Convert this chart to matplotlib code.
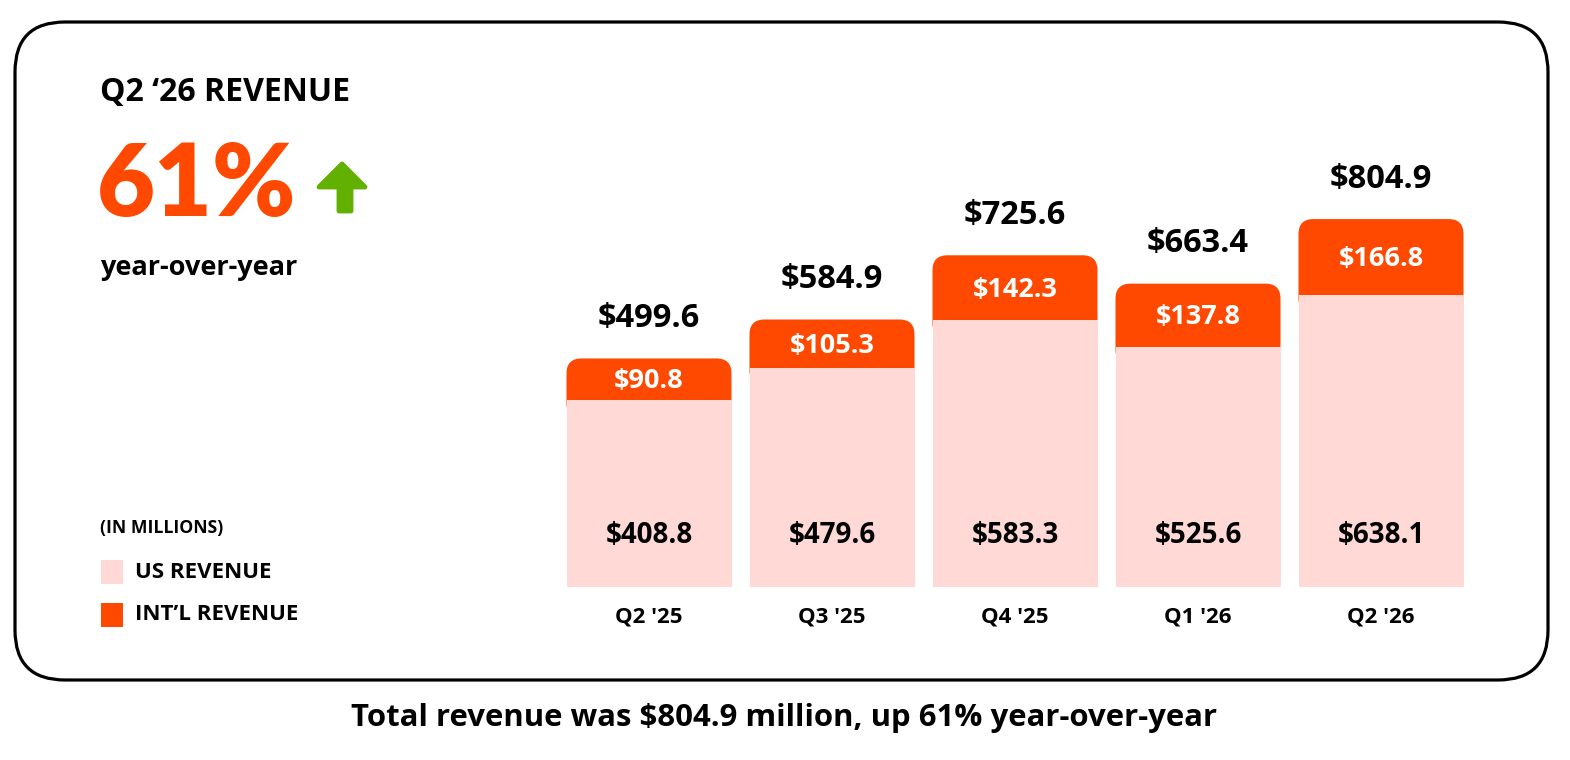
import matplotlib
matplotlib.use("Agg")
import matplotlib.pyplot as plt
from matplotlib.patches import FancyBboxPatch, Polygon, Rectangle

plt.rcParams['font.family'] = ['Open Sans', 'DejaVu Sans']

quarters = ["Q2 '25", "Q3 '25", "Q4 '25", "Q1 '26", "Q2 '26"]
us_revenue = [408.8, 479.6, 583.3, 525.6, 638.1]
intl_revenue = [90.8, 105.3, 142.3, 137.8, 166.8]
totals = [499.6, 584.9, 725.6, 663.4, 804.9]

ORANGE = "#FF4800"
PINK = "#FFD9D6"
GREEN = "#62B000"

W, H, DPI = 1570, 760, 100
fig = plt.figure(figsize=(W / DPI, H / DPI), dpi=DPI)
fig.patch.set_facecolor("white")

def px(x, y):
    return x / W, 1 - y / H

# outer rounded frame (in inches)
frame = FancyBboxPatch((15 / DPI, (H - 680) / DPI), (1548 - 15) / DPI, (680 - 22) / DPI,
                       boxstyle="round,pad=0,rounding_size=0.5",
                       transform=fig.dpi_scale_trans, facecolor="none",
                       edgecolor="black", linewidth=2.3, zorder=-1)
fig.patches.append(frame)

# axes
ax = fig.add_axes([557.5 / W, 173.5 / H, 915 / W, 456.5 / H])
ax.set_xlim(-0.5, 4.5)
ax.set_ylim(0, 1000)
ax.axis("off")
ax.patch.set_alpha(0)
ax.set_zorder(2)

bw = 165 / 183
px_per_unit_y = 0.4565
aspect = (1 / px_per_unit_y) / (1 / 183)
rs = 15 / 183
overlap = 40  # hidden part of the intl bar under the US bar (hides its lower rounded corners)
for i, (u, it, t) in enumerate(zip(us_revenue, intl_revenue, totals)):
    p = FancyBboxPatch((i - bw / 2, u - overlap), bw, it + overlap,
                       boxstyle=f"round,pad=0,rounding_size={rs}",
                       mutation_aspect=aspect, facecolor=ORANGE, edgecolor="none", zorder=1)
    ax.add_patch(p)
ax.bar(range(len(quarters)), us_revenue, width=bw, color=PINK, zorder=2)

pt = 72 / DPI
for i, (u, it, t) in enumerate(zip(us_revenue, intl_revenue, totals)):
    ax.annotate(f"${t:.1f}", (i, t), xytext=(0, 40 * pt), textcoords="offset points",
                ha="center", va="center", fontsize=23.5, fontweight="bold", color="black")
    ax.annotate(f"${it:.1f}", (i, u + it / 2), xytext=(0, -2 * pt), textcoords="offset points",
                ha="center", va="center", fontsize=19.5, fontweight="bold", color="white", zorder=3)
    ax.annotate(f"${u:.1f}", (i, 0), xytext=(0, 51 * pt), textcoords="offset points",
                ha="center", va="center", fontsize=20, fontweight="bold", color="black", zorder=3)
    ax.annotate(quarters[i], (i, 0), xytext=(0, -31 * pt), textcoords="offset points",
                ha="center", va="center", fontsize=16, fontweight="bold", color="black")

# left texts
fig.text(*px(100, 93), "Q2 \u201826 REVENUE", ha="left", va="center", fontsize=23, fontweight="bold")
fig.text(*px(97, 187), "61%", ha="left", va="center", fontsize=72, fontweight="heavy",
         color=ORANGE, family=["Lato", "DejaVu Sans"])
fig.text(*px(100, 268), "year-over-year", ha="left", va="center", fontsize=19.5, fontweight="bold")

# arrow
arrow_pts = [(342, 164), (365, 187), (351, 187), (351, 211), (339, 211), (339, 187), (319, 187)]
arrow = Polygon([((x) / DPI, (H - y) / DPI) for x, y in arrow_pts], closed=True,
                transform=fig.dpi_scale_trans, facecolor=GREEN, edgecolor=GREEN,
                linewidth=3.5, joinstyle="round")
fig.patches.append(arrow)

# legend
fig.text(*px(100, 528), "(IN MILLIONS)", ha="left", va="center", fontsize=12.7, fontweight="bold")
fig.patches.append(Rectangle((101 / DPI, (H - 584) / DPI), 22 / DPI, 24 / DPI,
                             transform=fig.dpi_scale_trans, facecolor=PINK, edgecolor="none"))
fig.patches.append(Rectangle((101 / DPI, (H - 627) / DPI), 22 / DPI, 24 / DPI,
                             transform=fig.dpi_scale_trans, facecolor=ORANGE, edgecolor="none"))
fig.text(*px(135, 572), "US REVENUE", ha="left", va="center", fontsize=16, fontweight="bold")
fig.text(*px(135, 614), "INT\u2019L REVENUE", ha="left", va="center", fontsize=16, fontweight="bold")

# caption
fig.text(*px(784, 718), "Total revenue was $804.9 million, up 61% year-over-year",
         ha="center", va="center", fontsize=22.4, fontweight="bold")

fig.savefig("out.png", dpi=DPI, facecolor="white")
